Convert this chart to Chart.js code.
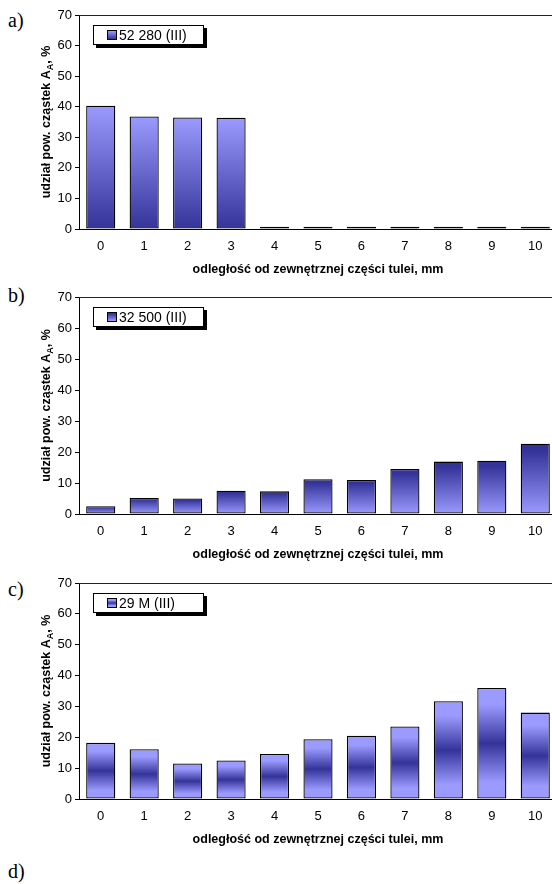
<!DOCTYPE html>
<html>
<head>
<meta charset="utf-8">
<script src="https://cdn.jsdelivr.net/npm/chart.js@4/dist/chart.umd.min.js"></script>
<style>
  html, body { margin: 0; padding: 0; background: #fff; overflow: hidden; }
  body { width: 552px; height: 884px; position: relative; }
  .panel { position: absolute; left: 0; width: 560px; height: 285px; }
  .letter { position: absolute; left: 8px; font: 20px "Liberation Serif", "Times New Roman", serif; color: #000; }
  .legend { position: absolute; left: 93px; width: 109px; height: 18px; background: #fff;
            border: 1px solid #000; box-shadow: 3px 3px 0 #000;
            font: 14px "Liberation Sans", Arial, sans-serif; color: #000;
            display: flex; align-items: center; }
  .legend .sw { width: 8px; height: 8px; border: 1px solid #000; margin: 0 2px 0 13px; }
</style>
</head>
<body>
<script>
// distance from outer part of the sleeve, mm
const distances = ['0', '1', '2', '3', '4', '5', '6', '7', '8', '9', '10'];

const series52280 = [40.3, 36.8, 36.5, 36.4, 0.7, 0.7, 0.7, 0.7, 0.7, 0.7, 0.7];
const series32500 = [2.5, 5.2, 5.0, 7.5, 7.3, 11.2, 11.0, 14.5, 16.9, 17.2, 22.7];
const series29M   = [18.2, 16.1, 11.5, 12.5, 14.6, 19.4, 20.5, 23.5, 31.7, 36.0, 28.0];

const seriesNames = ['52 280 (III)', '32 500 (III)', '29 M (III)'];
const panelLetters = ['a)', 'b)', 'c)', 'd)'];

const yMax = 70;
const yStep = 10;

const xTitle = 'odległość od zewnętrznej części tulei, mm';
const yTitleMain = 'udział pow. cząstek A';
const yTitleSub = 'A';
const yTitleEnd = ', %';

const LIGHT = '#9a9aff';
const DARK = '#333399';

// gradient styles per panel (stop offsets from bar top to bar bottom)
const fillLightDark = [[0, LIGHT], [1, DARK]];
const fillDarkLight = [[0, DARK], [0.1, DARK], [1, LIGHT]];
const fillLightDarkLight = [[0, LIGHT], [0.15, LIGHT], [0.5, DARK], [0.85, LIGHT], [1, LIGHT]];

const FONT = '"Liberation Sans", Arial, sans-serif';

function barFill(stops) {
    return function (ctx) {
        const chart = ctx.chart;
        if (!chart.chartArea || ctx.type !== 'data' || !ctx.parsed) return stops[0][1];
        const y = chart.scales.y;
        const top = y.getPixelForValue(ctx.parsed.y);
        const base = y.getPixelForValue(0);
        // near-zero bars show only as a black dash
        if (base - top < 3) return '#000';
        const g = chart.ctx.createLinearGradient(0, top, 0, base);
        stops.forEach(s => g.addColorStop(s[0], s[1]));
        return g;
    };
}

// rotated y title with subscript, plus top border of plot area
const extras = {
    id: 'extras',
    afterDraw(chart) {
        const c = chart.ctx;
        const area = chart.chartArea;
        c.save();
        c.strokeStyle = '#222';
        c.lineWidth = 1;
        c.beginPath();
        c.moveTo(area.left, area.top + 0.5);
        c.lineTo(area.right, area.top + 0.5);
        c.stroke();

        const bold = 'bold 12.5px ' + FONT;
        const small = 'bold 9px ' + FONT;
        c.font = bold;
        const w1 = c.measureText(yTitleMain).width;
        const w3 = c.measureText(yTitleEnd).width;
        c.font = small;
        const w2 = c.measureText(yTitleSub).width;
        const total = w1 + w2 + w3;
        c.translate(50, (area.top + area.bottom) / 2);
        c.rotate(-Math.PI / 2);
        c.fillStyle = '#000';
        c.textBaseline = 'alphabetic';
        let x = -total / 2;
        c.font = bold;
        c.fillText(yTitleMain, x, 0);
        x += w1;
        c.font = small;
        c.fillText(yTitleSub, x, 3);
        x += w2;
        c.font = bold;
        c.fillText(yTitleEnd, x, 0);
        c.restore();
    }
};

const panels = [
    { top: 0,   padTop: 15, data: series52280, fill: fillLightDark,      legendTop: 25 },
    { top: 285, padTop: 12, data: series32500, fill: fillDarkLight,      legendTop: 307 },
    { top: 570, padTop: 13, data: series29M,   fill: fillLightDarkLight, legendTop: 593 }
];

const letterTops = [9, 284, 578, 860];
panelLetters.forEach((t, i) => {
    const d = document.createElement('div');
    d.className = 'letter';
    d.style.top = letterTops[i] + 'px';
    d.textContent = t;
    document.body.appendChild(d);
});

panels.forEach((p, i) => {
    const wrap = document.createElement('div');
    wrap.className = 'panel';
    wrap.style.top = p.top + 'px';
    const canvas = document.createElement('canvas');
    canvas.width = 560;
    canvas.height = 285;
    wrap.appendChild(canvas);
    document.body.appendChild(wrap);

    new Chart(canvas, {
        type: 'bar',
        data: {
            labels: distances,
            datasets: [{
                label: seriesNames[i],
                data: p.data,
                backgroundColor: barFill(p.fill),
                borderColor: '#000',
                borderWidth: 1.3,
                borderSkipped: false,
                barPercentage: 0.67,
                categoryPercentage: 1
            }]
        },
        options: {
            responsive: false,
            animation: false,
            layout: { padding: { top: p.padTop, right: 3, left: 0, bottom: 0 } },
            plugins: { legend: { display: false }, tooltip: { enabled: false } },
            scales: {
                x: {
                    offset: true,
                    grid: { display: false, drawTicks: false },
                    border: { display: true, color: '#000', width: 1 },
                    ticks: { color: '#000', padding: 10, font: { family: FONT, size: 13 } },
                    title: {
                        display: true, text: xTitle, color: '#000',
                        font: { family: FONT, size: 12.5, weight: 'bold' },
                        padding: { top: 0, bottom: 8 }
                    },
                    afterFit(scale) { scale.height = 56; }
                },
                y: {
                    min: 0, max: yMax,
                    grid: { display: true, drawOnChartArea: false, drawTicks: true, tickLength: 4, color: '#000' },
                    border: { display: true, color: '#000', width: 1 },
                    ticks: { stepSize: yStep, color: '#000', padding: 3, font: { family: FONT, size: 13 } },
                    afterFit(scale) { scale.width = 79; }
                }
            }
        },
        plugins: [extras]
    });

    const lg = document.createElement('div');
    lg.className = 'legend';
    lg.style.top = p.legendTop + 'px';
    const sw = document.createElement('span');
    sw.className = 'sw';
    sw.style.background = 'linear-gradient(to bottom, ' + p.fill.map(s => s[1] + ' ' + (s[0] * 100) + '%').join(', ') + ')';
    lg.appendChild(sw);
    lg.appendChild(document.createTextNode(seriesNames[i]));
    document.body.appendChild(lg);
});
</script>
</body>
</html>
